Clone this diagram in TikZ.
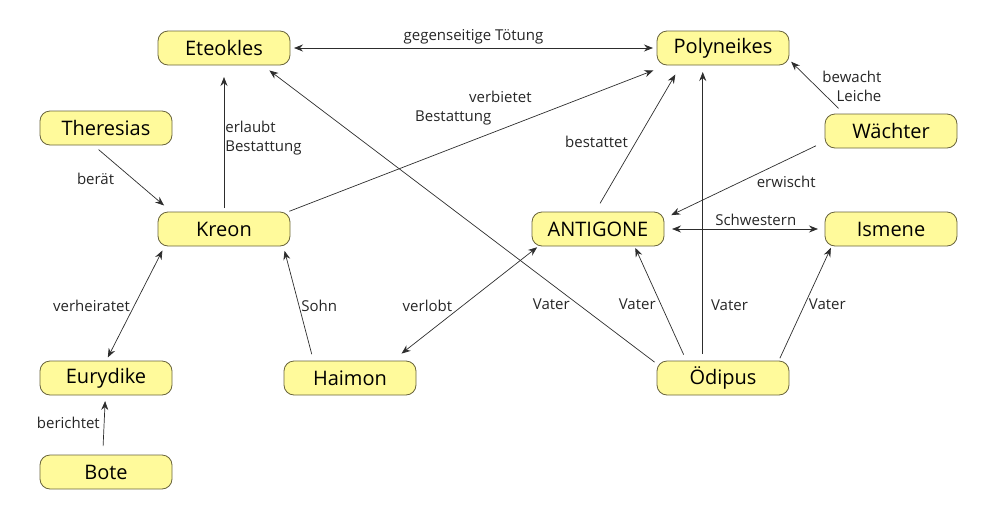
\documentclass[tikz,border=0pt]{standalone}
\usepackage{fontspec}
\setsansfont{Open Sans}
\usetikzlibrary{arrows.meta}
\definecolor{conceptfill}{RGB}{255,250,155}
\definecolor{conceptdraw}{RGB}{105,100,60}
\definecolor{linkcolor}{RGB}{45,45,45}
\tikzset{every picture/.style={/utils/exec={\sffamily}}}
\tikzset{
  concept/.style={draw=conceptdraw, fill=conceptfill, line width=0.8pt,
    rounded corners=10pt, minimum width=132pt, minimum height=34pt,
    inner sep=0pt, outer sep=0pt, font=\fontsize{20}{24}\selectfont},
  link/.style={draw=linkcolor, line width=0.7pt,
    >={Stealth[length=9pt, width=7pt, inset=3pt]}},
  lbl/.style={font=\fontsize{15}{19}\selectfont, text=black!85, inner sep=1pt}
}

\begin{document}
\begin{tikzpicture}[x=1pt, y=-1pt]
  \useasboundingbox (0,0) rectangle (989,512);
  \begin{scope}[every node/.style={concept}]
    \node (eteokles)   at (224,48)  {Eteokles};
    \node (polyneikes) at (723,48)  {Polyneikes};
    \node (theresias)  at (106,128) {Theresias};
    \node (waechter)   at (891,131) {Wächter};
    \node (kreon)      at (224,229) {Kreon};
    \node (antigone)   at (598,229) {ANTIGONE};
    \node (ismene)     at (891,229) {Ismene};
    \node (eurydike)   at (106,378) {Eurydike};
    \node (haimon)     at (350,378) {Haimon};
    \node (oedipus)    at (723,378) {Ödipus};
    \node (bote)       at (106,472) {Bote};
  \end{scope}

  \draw[link, <->, shorten <=4pt, shorten >=4pt] (eteokles) -- (polyneikes)
    node[lbl, midway, above=3pt] {gegenseitige Tötung};
  \draw[link, ->, shorten <=4pt, shorten >=12pt] (kreon) -- (eteokles)
    node[lbl, midway, right, align=left] {erlaubt\\Bestattung};
  \draw[link, ->, shorten <=2pt, shorten >=15pt] (kreon.15) -- (polyneikes.-163)
    node[lbl, pos=0.5, xshift=-4pt, yshift=30pt, align=left] {\hspace*{54pt}verbietet\\Bestattung};
  \draw[link, ->, shorten <=7pt, shorten >=10pt] (theresias.233) -- (kreon.162)
    node[lbl, pos=0.5, left=17pt] {berät};
  \draw[link, <->, shorten <=4pt, shorten >=5pt] (eurydike.north) -- (kreon.196)
    node[lbl, pos=0.48, left=3pt] {verheiratet};
  \draw[link, ->, shorten <=9pt, shorten >=6pt] (bote.101) -- (eurydike.-92)
    node[lbl, pos=0.53, left=3pt] {berichtet};
  \draw[link, ->, shorten <=7pt, shorten >=5pt] (haimon.155) -- (kreon.-16)
    node[lbl, pos=0.48, right=1pt] {Sohn};
  \draw[link, <->, shorten <=12pt, shorten >=2pt] (haimon.22) -- (antigone.196)
    node[lbl, pos=0.48, left=9pt] {verlobt};
  \draw[link, ->, shorten <=3pt, shorten >=9pt] (oedipus.168) -- (eteokles.-24)
    node[lbl, pos=0.2, left=7pt] {Vater};
  \draw[link, ->, shorten <=7pt, shorten >=2pt] (oedipus.155) -- (antigone.-25)
    node[lbl, pos=0.49, left=4pt] {Vater};
  \draw[link, ->, shorten <=7pt, shorten >=7pt] (oedipus.140) -- (polyneikes.-140)
    node[lbl, pos=0.19, right=7pt] {Vater};
  \draw[link, ->, shorten <=3pt, shorten >=2pt] (oedipus.17) -- (ismene.196)
    node[lbl, pos=0.49, right=3pt] {Vater};
  \draw[link, ->, shorten <=10pt, shorten >=11pt] (antigone.100) -- (polyneikes.-158)
    node[lbl, pos=0.48, left=7pt] {bestattet};
  \draw[link, ->, shorten <=8pt, shorten >=3pt] (waechter.160) -- (polyneikes.-10)
    node[lbl, pos=0.51, right=5pt, align=right] {bewacht\\Leiche};
  \draw[link, ->, shorten <=10pt, shorten >=8pt] (waechter.189) -- (antigone.9)
    node[lbl, pos=0.525, right=15pt] {erwischt};
  \draw[link, <->, shorten <=8pt, shorten >=7pt] (antigone) -- (ismene)
    node[lbl, pos=0.57, above=2pt] {Schwestern};
\end{tikzpicture}
\end{document}
